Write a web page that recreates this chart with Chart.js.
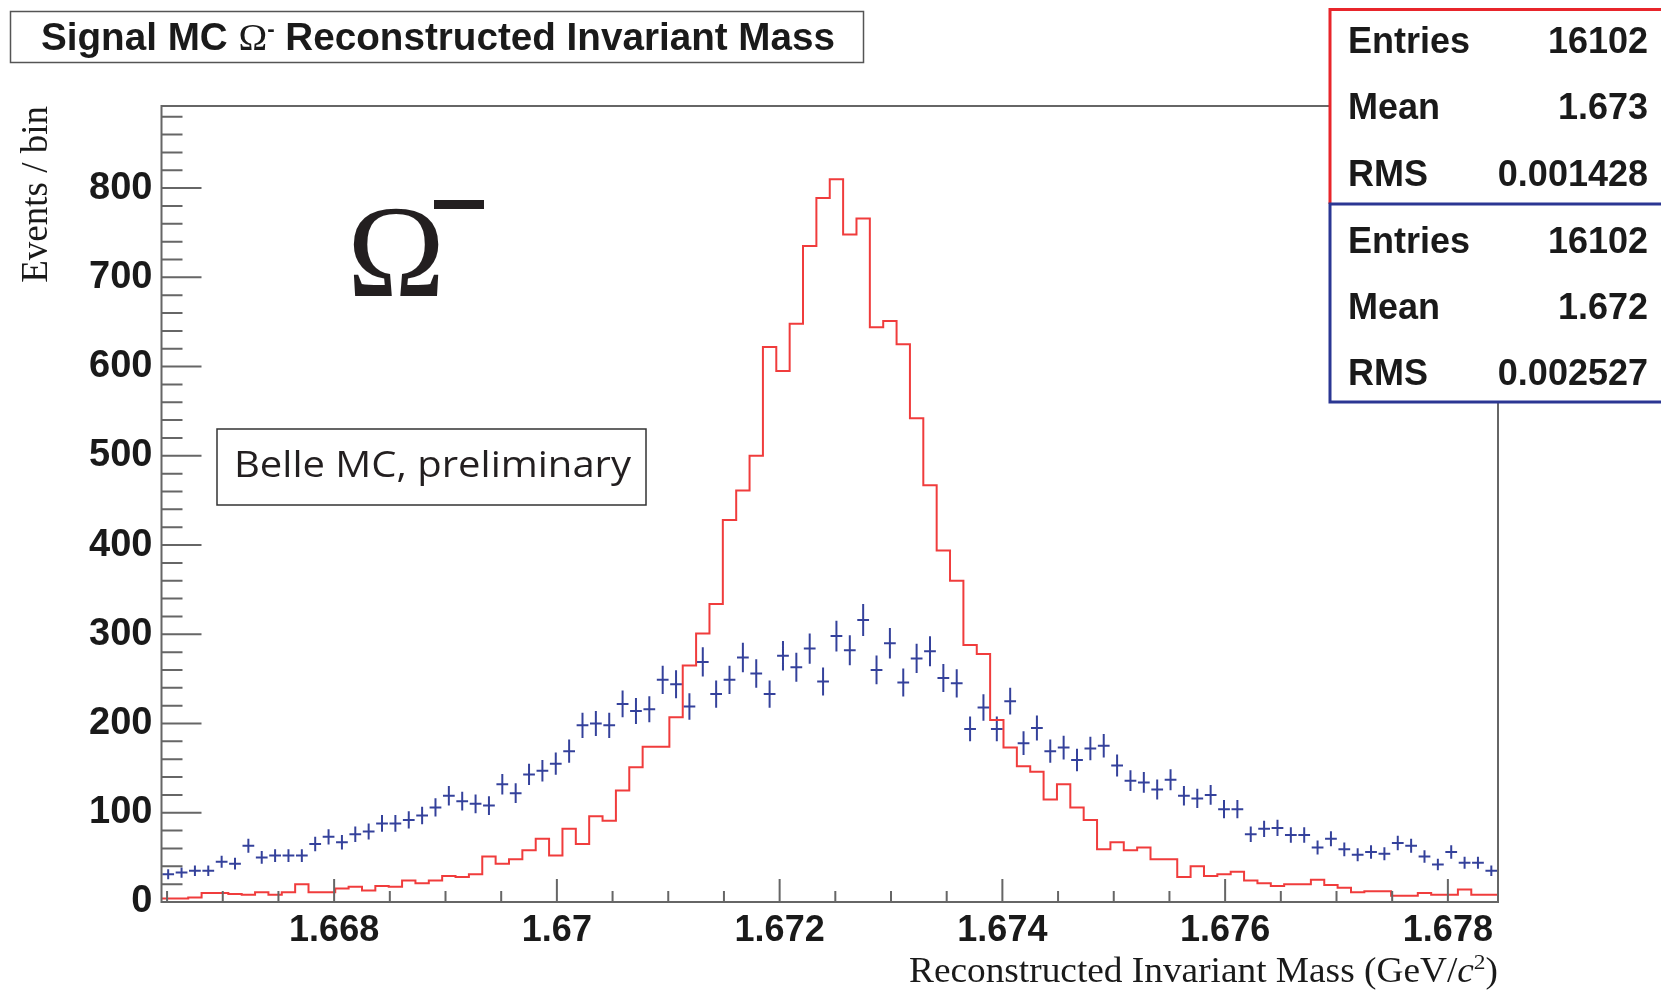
<!DOCTYPE html>
<html>
<head>
<meta charset="utf-8">
<script src="https://cdn.jsdelivr.net/npm/chart.js@4.4.1/dist/chart.umd.min.js"></script>
<style>
  html, body { margin: 0; padding: 0; background: #fff; }
  canvas { display: block; }
</style>
</head>
<body>
<canvas id="massChart" width="1661" height="990"></canvas>
<script>
// histogram binning (100 bins)
const xMin = 1.66645;
const xMax = 1.67845;
const binWidth = 0.00012;
const yMax = 892;

// red: signal MC, counts per bin
const redCounts = [
  4, 4, 5, 10, 10, 9, 8, 11, 8, 11,
  20, 11, 11, 15, 17, 13, 18, 17, 24, 21,
  24, 29, 28, 31, 51, 43, 48, 58, 71, 52,
  82, 65, 96, 91, 125, 151, 174, 174, 207, 265,
  301, 334, 428, 461, 500, 622, 595, 648, 735, 789,
  810, 748, 766, 644, 651, 625, 542, 467, 394, 360,
  288, 278, 204, 173, 152, 146, 115, 132, 106, 92,
  59, 67, 58, 61, 48, 48, 28, 40, 29, 31,
  34, 24, 21, 18, 20, 20, 25, 19, 16, 11,
  12, 12, 7, 7, 10, 8, 8, 14, 8, 8
];

// blue: points with error bars
const blueCounts = [
  31, 33, 35, 35, 45, 43, 63, 50, 52, 52,
  52, 65, 73, 67, 76, 79, 88, 88, 92, 97,
  106, 119, 113, 110, 108, 132, 122, 143, 147, 155,
  169, 198, 200, 198, 222, 214, 216, 249, 244, 219,
  269, 233, 249, 274, 256, 233, 276, 263, 284, 247,
  298, 282, 316, 260, 290, 246, 273, 281, 251, 245,
  194, 218, 194, 225, 178, 195, 169, 173, 159, 172,
  175, 153, 136, 134, 126, 137, 119, 116, 120, 104,
  104, 76, 82, 83, 75, 75, 61, 71, 59, 53,
  56, 54, 66, 63, 51, 42, 56, 44, 44, 35
];
const blueErrors = [
  5.6, 5.7, 5.9, 5.9, 6.7, 6.6, 7.9, 7.1, 7.2, 7.2,
  7.2, 8.1, 8.5, 8.2, 8.7, 8.9, 9.4, 9.4, 9.6, 9.8,
  10.3, 10.9, 10.6, 10.5, 10.4, 11.5, 11.0, 12.0, 12.1, 12.4,
  13.0, 14.1, 14.1, 14.1, 14.9, 14.6, 14.7, 15.8, 15.6, 14.8,
  16.4, 15.3, 15.8, 16.6, 16.0, 15.3, 16.6, 16.2, 16.9, 15.7,
  17.3, 16.8, 17.8, 16.1, 17.0, 15.7, 16.5, 16.8, 15.8, 15.7,
  13.9, 14.8, 13.9, 15.0, 13.3, 14.0, 13.0, 13.2, 12.6, 13.1,
  13.2, 12.4, 11.7, 11.6, 11.2, 11.7, 10.9, 10.8, 11.0, 10.2,
  10.2, 8.7, 9.1, 9.1, 8.7, 8.7, 7.8, 8.4, 7.7, 7.3,
  7.5, 7.3, 8.1, 7.9, 7.1, 6.5, 7.5, 6.6, 6.6, 5.9
];

const xTickValues = [1.668, 1.670, 1.672, 1.674, 1.676, 1.678];
const xTickLabels = ['1.668', '1.67', '1.672', '1.674', '1.676', '1.678'];
const yTickValues = [0, 100, 200, 300, 400, 500, 600, 700, 800];

const statsRed = [['Entries', '16102'], ['Mean', '1.673'], ['RMS', '0.001428']];
const statsBlue = [['Entries', '16102'], ['Mean', '1.672'], ['RMS', '0.002527']];

// build outline + error bar segments
const redLine = [];
redCounts.forEach((v, i) => {
    const lo = xMin + i * binWidth;
    redLine.push({ x: lo, y: v }, { x: lo + binWidth, y: v });
});

const halfBar = 0.44 * binWidth;
const blueBars = [];
blueCounts.forEach((v, i) => {
    const c = xMin + (i + 0.5) * binWidth;
    const e = blueErrors[i];
    blueBars.push({ x: c - halfBar, y: v }, { x: c + halfBar, y: v }, { x: c, y: null });
    blueBars.push({ x: c, y: v - e }, { x: c, y: v + e }, { x: c, y: null });
});

const SANS = '"Liberation Sans", Arial, sans-serif';
const SERIF = '"Liberation Serif", "Times New Roman", serif';

// frame + inward ticks, ROOT style
const framePlugin = {
    id: 'frame',
    afterDatasetsDraw(chart) {
        const { ctx, chartArea: a, scales: { x, y } } = chart;
        ctx.save();
        ctx.strokeStyle = '#666';
        ctx.lineWidth = 2;
        ctx.strokeRect(a.left, a.top, a.right - a.left, a.bottom - a.top);
        ctx.beginPath();
        for (let v = 0; v <= yMax; v += 20) {
            const py = y.getPixelForValue(v);
            ctx.moveTo(a.left, py);
            ctx.lineTo(a.left + (v % 100 === 0 ? 40 : 21), py);
        }
        for (let n = 16665; n <= 16784; n += 5) {
            const px = x.getPixelForValue(n / 10000);
            ctx.moveTo(px, a.bottom);
            ctx.lineTo(px, a.bottom - ((n - 16680) % 20 === 0 ? 23 : 11));
        }
        ctx.stroke();
        ctx.restore();
    }
};

const labelsPlugin = {
    id: 'labels',
    afterDraw(chart) {
        const ctx = chart.ctx;
        ctx.save();
        ctx.fillStyle = '#1a1a1a';

        // title box
        ctx.fillStyle = '#fff';
        ctx.fillRect(10, 11, 853, 51);
        ctx.strokeStyle = '#555';
        ctx.lineWidth = 1.5;
        ctx.strokeRect(10.5, 11.5, 853, 51);
        ctx.fillStyle = '#1a1a1a';
        const boldFont = 'bold 38px ' + SANS;
        const parts = [
            [boldFont, 'Signal MC ', 0],
            ['38px ' + SERIF, '\u03A9', 0],
            ['bold 22px ' + SANS, '-', -14],
            [boldFont, ' Reconstructed Invariant Mass', 0]
        ];
        let total = 0;
        parts.forEach(p => { ctx.font = p[0]; total += ctx.measureText(p[1]).width; });
        ctx.save();
        ctx.translate(41, 49.5);
        ctx.scale(794 / total, 1);
        let cx = 0;
        parts.forEach(p => {
            ctx.font = p[0];
            ctx.fillText(p[1], cx, p[2]);
            cx += ctx.measureText(p[1]).width;
        });
        ctx.restore();

        // stats boxes
        ctx.fillStyle = '#fff';
        ctx.fillRect(1330, 9, 340, 394);
        ctx.lineWidth = 3;
        ctx.strokeStyle = '#e8252b';
        ctx.beginPath();
        ctx.moveTo(1330, 204); ctx.lineTo(1330, 9.5); ctx.lineTo(1670, 9.5);
        ctx.stroke();
        ctx.strokeStyle = '#2b3793';
        ctx.beginPath();
        ctx.moveTo(1670, 204); ctx.lineTo(1330, 204); ctx.lineTo(1330, 402); ctx.lineTo(1670, 402);
        ctx.stroke();
        ctx.fillStyle = '#1a1a1a';
        ctx.font = 'bold 36px ' + SANS;
        const rows = [[statsRed, [52.5, 119, 186]], [statsBlue, [252.5, 319, 385]]];
        rows.forEach(([stats, baselines]) => {
            stats.forEach((s, i) => {
                ctx.textAlign = 'left';
                ctx.fillText(s[0], 1348, baselines[i]);
                ctx.textAlign = 'right';
                ctx.fillText(s[1], 1648, baselines[i]);
            });
        });
        ctx.textAlign = 'left';

        // big Omega-minus label
        ctx.fillStyle = '#231f20';
        ctx.font = '132px ' + SERIF;
        ctx.fillText('\u03A9', 347, 296);
        ctx.fillRect(434, 200, 50, 9);

        // Belle MC box
        ctx.strokeStyle = '#333';
        ctx.lineWidth = 1.5;
        ctx.strokeRect(217, 429, 429, 76);
        ctx.font = '36px "Open Sans", "Noto Sans", sans-serif';
        ctx.textBaseline = 'middle';
        const belle = 'Belle MC, preliminary';
        const bw = ctx.measureText(belle).width;
        ctx.save();
        ctx.translate(234, 467);
        ctx.scale(397 / bw, 1);
        ctx.fillText(belle, 0, 0);
        ctx.restore();
        ctx.textBaseline = 'alphabetic';

        // y axis title
        ctx.fillStyle = '#1a1a1a';
        ctx.font = '37px ' + SERIF;
        ctx.save();
        ctx.translate(46.5, 106);
        ctx.rotate(-Math.PI / 2);
        ctx.textAlign = 'right';
        ctx.fillText('Events / bin', 0, 0);
        ctx.restore();

        // x axis title with italic c and superscript 2
        const xParts = [
            ['35px ' + SERIF, 'Reconstructed Invariant Mass (GeV/', 0],
            ['italic 35px ' + SERIF, 'c', 0],
            ['22px ' + SERIF, '2', -13],
            ['35px ' + SERIF, ')', 0]
        ];
        let xw = 0;
        xParts.forEach(p => { ctx.font = p[0]; xw += ctx.measureText(p[1]).width; });
        ctx.save();
        ctx.translate(1498 - 589, 982);
        ctx.scale(589 / xw, 1);
        let px = 0;
        xParts.forEach(p => {
            ctx.font = p[0];
            ctx.fillText(p[1], px, p[2]);
            px += ctx.measureText(p[1]).width;
        });
        ctx.restore();

        ctx.restore();
    }
};

const ctx = document.getElementById('massChart').getContext('2d');

new Chart(ctx, {
    type: 'line',
    data: {
        datasets: [
            {
                label: 'signal',
                data: redLine,
                borderColor: '#f03c3c',
                borderWidth: 2,
                pointRadius: 0,
                fill: false,
                tension: 0
            },
            {
                label: 'reconstructed',
                data: blueBars,
                borderColor: '#34419b',
                borderWidth: 2,
                pointRadius: 0,
                fill: false,
                spanGaps: false,
                tension: 0
            }
        ]
    },
    options: {
        responsive: false,
        devicePixelRatio: 1,
        animation: false,
        layout: { padding: { top: 106, right: 163, left: 0, bottom: 0 } },
        plugins: {
            legend: { display: false },
            tooltip: { enabled: false },
            title: { display: false }
        },
        scales: {
            x: {
                type: 'linear',
                min: xMin,
                max: xMax,
                afterBuildTicks: scale => { scale.ticks = xTickValues.map(v => ({ value: v })); },
                afterFit: scale => { scale.height = 88; },
                grid: { display: false, drawTicks: false },
                border: { display: false },
                ticks: {
                    autoSkip: false,
                    maxRotation: 0,
                    padding: 7,
                    color: '#1a1a1a',
                    font: { family: SANS, weight: 'bold', size: 36 },
                    callback: (value, index) => xTickLabels[index]
                }
            },
            y: {
                type: 'linear',
                min: 0,
                max: yMax,
                afterBuildTicks: scale => { scale.ticks = yTickValues.map(v => ({ value: v })); },
                afterFit: scale => { scale.width = 161.5; },
                grid: { display: false, drawTicks: false },
                border: { display: false },
                ticks: {
                    padding: 9,
                    color: '#1a1a1a',
                    font: { family: SANS, weight: 'bold', size: 38 },
                    callback: value => String(value)
                }
            }
        }
    },
    plugins: [framePlugin, labelsPlugin]
});
</script>
</body>
</html>
